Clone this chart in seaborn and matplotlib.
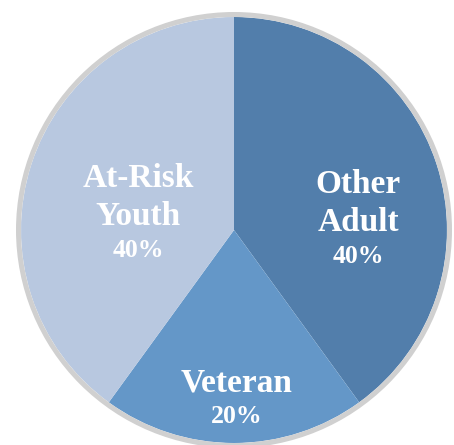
import matplotlib
matplotlib.use("Agg")
import matplotlib.pyplot as plt
import seaborn as sns

# Data
groups = ["Other Adult", "Veteran", "At-Risk Youth"]
shares = [40, 20, 40]
name_lines = [["Other", "Adult"], ["Veteran"], ["At-Risk", "Youth"]]
colors = ["#527eab", "#6497c8", "#b8c8e0"]

# label layout: x centre, baseline of first name line, baseline of percent (pixels)
label_x = [358, 237, 138]
name_base = [193, 392, 187]
pct_base = [263, 423, 257]
line_step = 38

sns.set_theme(style="white")
plt.rcParams["font.family"] = ["Liberation Serif", "DejaVu Serif"]

cx, cy, r = 234, 230, 213

fig = plt.figure(figsize=(4.54, 4.45), dpi=100)
ax = fig.add_axes([0, 0, 1, 1])

ax.pie(shares, colors=colors, startangle=90, counterclock=False,
       radius=1, wedgeprops=dict(linewidth=0))
# grey outer ring
ax.add_patch(plt.Circle((0, 0), 1 + 2.5 / r, fill=False, edgecolor="#d0d0d0", linewidth=3.6))

def to_data(px, py):
    return (px - cx) / r, (cy - py) / r

for i in range(len(groups)):
    for j, line in enumerate(name_lines[i]):
        x, y = to_data(label_x[i], name_base[i] + j * line_step)
        ax.text(x, y, line, ha="center", va="baseline", color="white",
                fontsize=24, fontweight="bold")
    x, y = to_data(label_x[i], pct_base[i])
    ax.text(x, y, f"{shares[i]}%", ha="center", va="baseline", color="white",
            fontsize=18.5, fontweight="bold")

ax.set_xlim(-cx / r, (454 - cx) / r)
ax.set_ylim(-(445 - cy) / r, cy / r)
ax.set_aspect("equal")
ax.axis("off")

fig.savefig("out.png", dpi=100)
